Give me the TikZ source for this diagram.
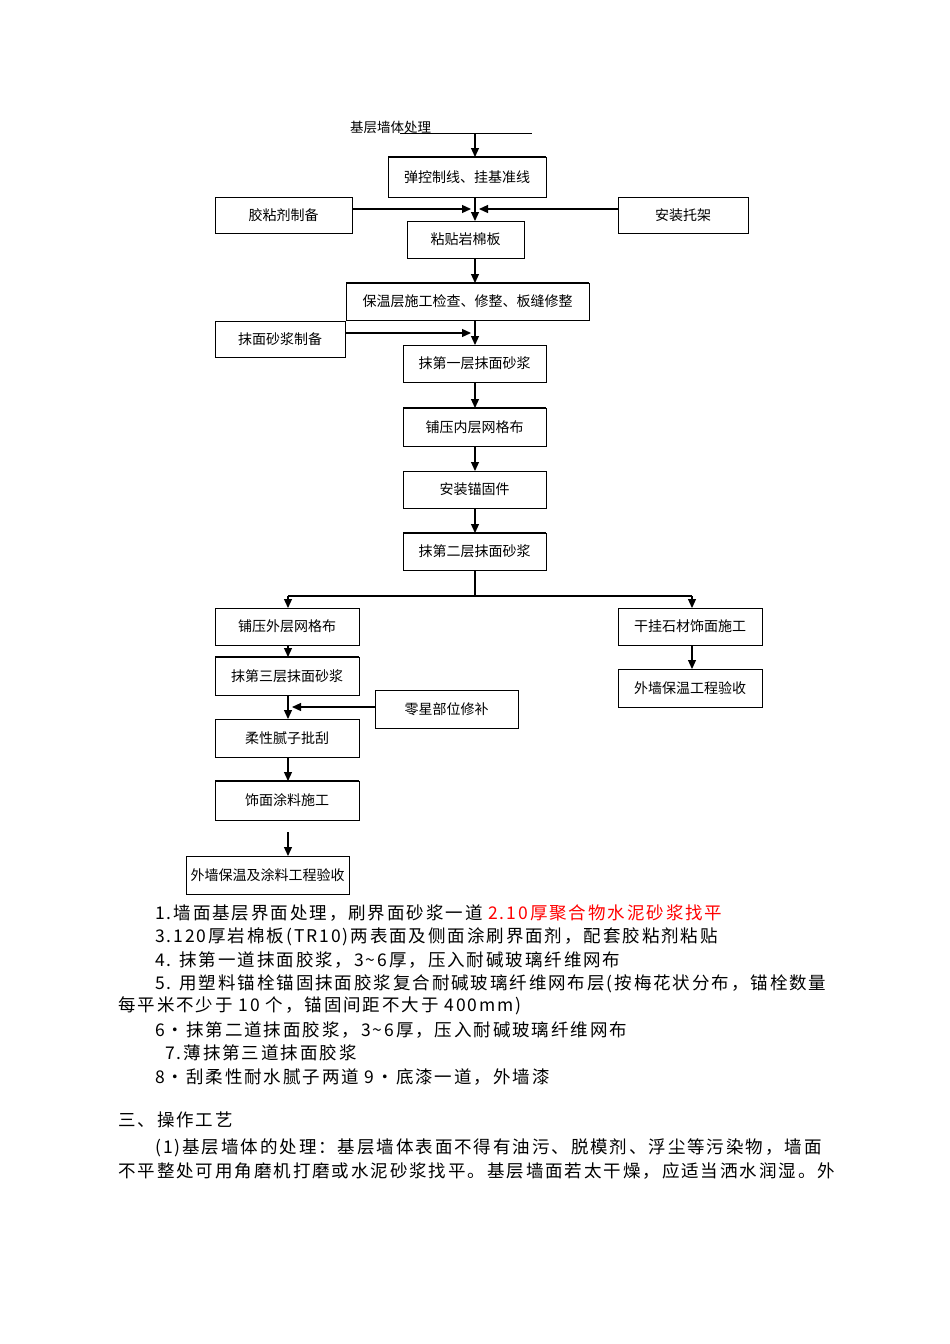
\documentclass[tikz,border=0pt]{standalone}
\usepackage{fontspec}
\setmainfont{Liberation Serif}
\newfontfamily\cjk{Noto Sans CJK SC}
\newfontfamily\cjkw[LetterSpace=11]{Noto Sans CJK SC}
\usetikzlibrary{arrows.meta}
\begin{document}
\begin{tikzpicture}[x=1pt,y=-1pt,
  bx/.style={draw,line width=1pt,inner sep=0pt,font=\cjk\fontsize{14}{14}\selectfont},
  ar/.style={-{Triangle[length=9pt,width=8pt]},line width=1.2pt},
  ln/.style={line width=1.2pt},
  tx/.style={anchor=west,inner sep=0pt,font=\cjkw\fontsize{17.5}{18}\selectfont}]
\useasboundingbox[fill=white] (0,0) rectangle (950,1344);
\newcommand\bxat[6]{\node[bx,minimum width=#4-#2,minimum height=#5-#3] (#1) at ({(#2+#4)/2},{(#3+#5)/2}) {#6};}
\node[anchor=west,inner sep=0pt,font=\cjk\fontsize{13.5}{13.5}\selectfont] (t0) at (350,127) {基层墙体处理};
\coordinate (l0a) at (400,133); \coordinate (l0b) at (532,133); \coordinate (l0m) at (475,133);
\draw[line width=0.8pt] (l0a) -- (l0b);
\bxat{b1}{388}{157}{546}{197}{弹控制线、挂基准线}
\bxat{gl}{215}{197}{352}{233}{胶粘剂制备}
\bxat{tj}{618}{197}{748}{233}{安装托架}
\bxat{b2}{407}{221}{524}{258}{粘贴岩棉板}
\bxat{b3}{346}{283}{589}{320}{保温层施工检查、修整、板缝修整}
\bxat{mj}{215}{321}{345}{357}{抹面砂浆制备}
\bxat{b4}{403}{345}{546}{382}{抹第一层抹面砂浆}
\bxat{b5}{403}{408}{546}{446}{铺压内层网格布}
\bxat{b6}{403}{471}{546}{508}{安装锚固件}
\bxat{b7}{403}{533}{546}{570}{抹第二层抹面砂浆}
\bxat{L1}{215}{608}{359}{645}{铺压外层网格布}
\bxat{R1}{618}{608}{762}{645}{干挂石材饰面施工}
\bxat{L2}{215}{657}{359}{695}{抹第三层抹面砂浆}
\bxat{R2}{618}{669}{762}{707}{外墙保温工程验收}
\bxat{sd}{375}{690}{518}{728}{零星部位修补}
\bxat{L3}{215}{719}{359}{757}{柔性腻子批刮}
\bxat{L4}{215}{781}{359}{820}{饰面涂料施工}
\bxat{L5}{186}{856}{349}{894}{外墙保温及涂料工程验收}
\foreach \n/\a/\b/\y in {b1/388/546/157, b3/346/589/283, b5/403/546/408, b7/403/546/533, L2/215/359/657, L4/215/359/781}
  \draw[line width=2.2pt] (\a,\y) -- (\b,\y);
\draw[ar] (l0m) -- (475,157);
\draw[ln] (475,197) -- (475,209);
\draw[ar] (gl.east|-475,209) -- (471,209);
\draw[ar] (tj.west|-475,209) -- (479,209);
\draw[ar] (475,209) -- (475,221);
\draw[ar] (475,258) -- (475,283);
\draw[ln] (475,320) -- (475,333);
\draw[ar] (mj.east|-475,333) -- (471,333);
\draw[ar] (475,333) -- (475,345);
\draw[ar] (475,382) -- (475,408);
\draw[ar] (475,446) -- (475,471);
\draw[ar] (475,508) -- (475,533);
\draw[ln] (475,570) -- (475,596);
\draw[ln] (288,596) -- (692,596);
\draw[ar] (288,596) -- (288,608);
\draw[ar] (692,596) -- (692,608);
\draw[ar] (288,645) -- (288,657);
\draw[ar] (692,645) -- (692,669);
\draw[ln] (288,695) -- (288,707);
\draw[ar] (sd.west|-375,707) -- (292,707);
\draw[ar] (288,707) -- (288,719);
\draw[ar] (288,757) -- (288,781);
\draw[ar] (288,832) -- (288,856);
\node[tx] (p1) at (155,913) {1.墙面基层界面处理，刷界面砂浆一道 \textcolor{red}{2.10厚聚合物水泥砂浆找平}};
\node[tx] (p2) at (155,937) {3.120厚岩棉板(TR10)两表面及侧面涂刷界面剂，配套胶粘剂粘贴};
\node[tx] (p3) at (155,960) {4. 抹第一道抹面胶浆，3\textasciitilde6厚，压入耐碱玻璃纤维网布};
\node[tx] (p4) at (155,984) {5. 用塑料锚栓锚固抹面胶浆复合耐碱玻璃纤维网布层(按梅花状分布，锚栓数量};
\node[tx] (p5) at (118,1006) {每平米不少于 10 个，锚固间距不大于 400mm)};
\node[tx] (p6) at (155,1030) {6•抹第二道抹面胶浆，3\textasciitilde6厚，压入耐碱玻璃纤维网布};
\node[tx] (p7) at (165,1053) {7.薄抹第三道抹面胶浆};
\node[tx] (p8) at (155,1077) {8•刮柔性耐水腻子两道 9•底漆一道，外墙漆};
\node[tx] (p9) at (118,1120) {三、操作工艺};
\node[tx] (p10) at (155,1148) {(1)基层墙体的处理：基层墙体表面不得有油污、脱模剂、浮尘等污染物，墙面};
\node[tx] (p11) at (118,1171) {不平整处可用角磨机打磨或水泥砂浆找平。基层墙面若太干燥，应适当洒水润湿。外};
\end{tikzpicture}
\end{document}
